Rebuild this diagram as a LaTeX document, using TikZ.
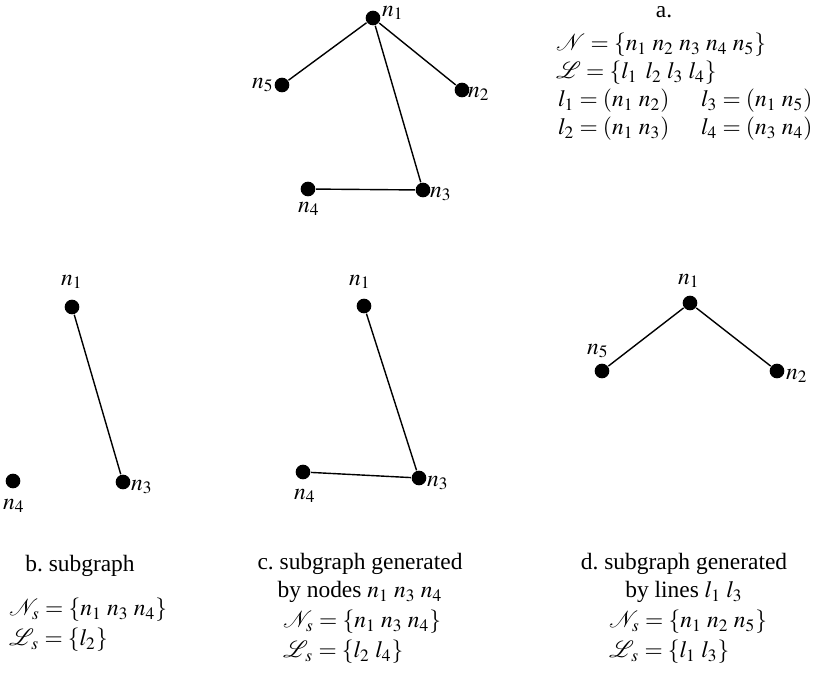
\documentclass[tikz,border=0pt]{standalone}
\usepackage{amsmath}
\usepackage{mathptmx}
\usepackage{mathrsfs}
\usepackage[no-math]{fontspec}
\setmainfont{Liberation Serif}
\begin{document}
\begin{tikzpicture}[x=.015cm,y=-.015cm,line width=.6pt,
  dot/.style={circle,fill,inner sep=0pt,minimum size=.22cm},
  lab/.style={inner sep=0pt},
  txt/.style={inner sep=1pt,anchor=west}]
\useasboundingbox (0,0) rectangle (814,685);
% a. the graph
\node[dot] (a1) at (373,18) {}; \node[dot] (a2) at (462,90) {};
\node[dot] (a3) at (423,190) {}; \node[dot] (a4) at (308,189) {};
\node[dot] (a5) at (282,85) {};
\draw (a1)--(a2); \draw (a1)--(a3); \draw (a1)--(a5); \draw (a3)--(a4);
\node[lab] (la1) at (393,13) {$n_1$}; \node[lab] (la2) at (479,94) {$n_2$};
\node[lab] (la3) at (441,194) {$n_3$}; \node[lab] (la4) at (309,209) {$n_4$};
\node[lab] (la5) at (263,85) {$n_5$};
\node (capa) at (664,12) {a.};
\node[txt] (ta1) at (553,45) {$\mathscr{N}=\{n_1\;n_2\;n_3\;n_4\;n_5\}$};
\node[txt] (ta2) at (553,73) {$\mathscr{L}=\{l_1\;\,l_2\;l_3\;l_4\}$};
\node[txt] (ta3) at (555,101) {$l_1={}(n_1\;n_2)$};
\node[txt] (ta4) at (698,101) {$l_3={}(n_1\;n_5)$};
\node[txt] (ta5) at (555,129) {$l_2={}(n_1\;n_3)$};
\node[txt] (ta6) at (698,129) {$l_4={}(n_3\;n_4)$};
% b. subgraph
\node[dot] (b1) at (72,307) {}; \node[dot] (b3) at (123,482) {};
\node[dot] (b4) at (13,481) {};
\draw (b1)--(b3);
\node[lab] (lb1) at (72,282) {$n_1$}; \node[lab] (lb3) at (142,487) {$n_3$};
\node[lab] (lb4) at (14,506) {$n_4$};
\node (capb) at (80,566) {b.\ subgraph};
\node[txt] (tb1) at (6,610) {$\mathscr{N}_{\,s}=\{n_1\;n_3\;n_4\}$};
\node[txt] (tb2) at (6,640) {$\mathscr{L}_{\,s}=\{l_2\}$};
% c. generated by nodes
\node[dot] (c1) at (364,306) {}; \node[dot] (c3) at (419,478) {};
\node[dot] (c4) at (303,472) {};
\draw (c1)--(c3); \draw (c3)--(c4);
\node[lab] (lc1) at (360,282) {$n_1$}; \node[lab] (lc3) at (438,483) {$n_3$};
\node[lab] (lc4) at (305,496) {$n_4$};
\node[align=center,inner sep=1pt] (capc) at (360,578) {c.\ subgraph generated\\by nodes $n_1\;n_3\;n_4$};
\node[txt] (tc1) at (280,622) {$\mathscr{N}_{\,s}=\{n_1\;n_3\;n_4\}$};
\node[txt] (tc2) at (280,652) {$\mathscr{L}_{\,s}=\{l_2\;l_4\}$};
% d. generated by lines
\node[dot] (d1) at (690,303) {}; \node[dot] (d2) at (777,371) {};
\node[dot] (d5) at (602,371) {};
\draw (d1)--(d2); \draw (d1)--(d5);
\node[lab] (ld1) at (689,281) {$n_1$}; \node[lab] (ld2) at (797,376) {$n_2$};
\node[lab] (ld5) at (598,351) {$n_5$};
\node[align=center,inner sep=1pt] (capd) at (684,578) {d.\ subgraph generated\\by lines $l_1\;l_3$};
\node[txt] (td1) at (606,622) {$\mathscr{N}_{\,s}=\{n_1\;n_2\;n_5\}$};
\node[txt] (td2) at (606,652) {$\mathscr{L}_{\,s}=\{l_1\;l_3\}$};
\end{tikzpicture}
\end{document}
